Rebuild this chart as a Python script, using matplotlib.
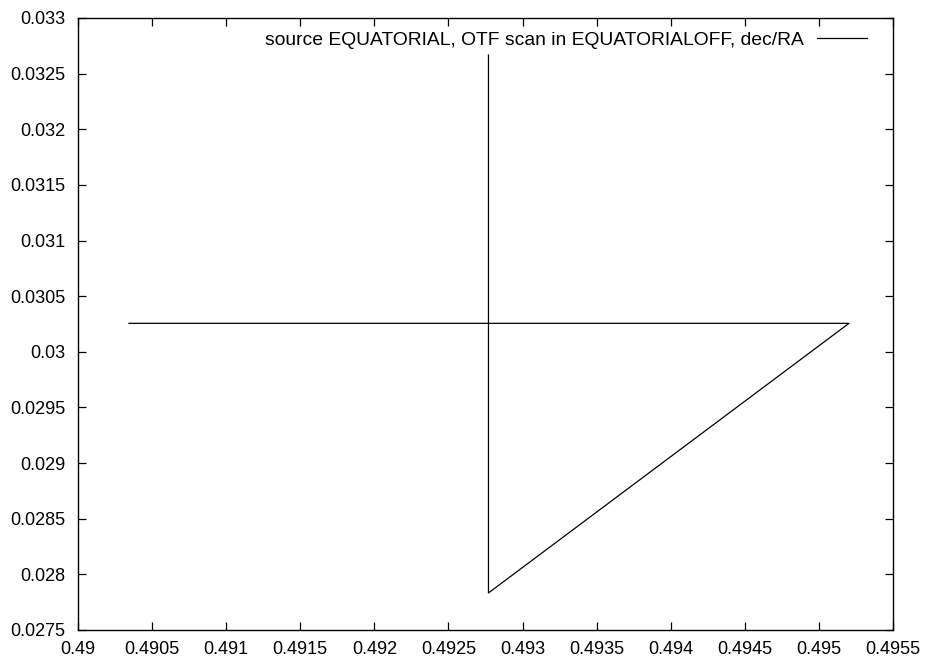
import matplotlib
matplotlib.use("Agg")
import matplotlib.pyplot as plt

# scan path (RA, dec)
ra = [0.490344, 0.495203, 0.49277, 0.49277]
dec = [0.030256, 0.030256, 0.027833, 0.032667]
label = "source EQUATORIAL, OTF scan in EQUATORIALOFF, dec/RA"

xticks = [0.49, 0.4905, 0.491, 0.4915, 0.492, 0.4925, 0.493, 0.4935,
          0.494, 0.4945, 0.495, 0.4955]
yticks = [0.0275, 0.028, 0.0285, 0.029, 0.0295, 0.03, 0.0305, 0.031,
          0.0315, 0.032, 0.0325, 0.033]

plt.rcParams['font.family'] = ['Liberation Sans', 'DejaVu Sans']
plt.rcParams['font.size'] = 13

fig = plt.figure(figsize=(9.29, 6.64), dpi=100)
ax = fig.add_axes([78 / 929, 34 / 664, 815 / 929, 612 / 664])

ax.plot(ra, dec, color="black", linewidth=0.9, label=label)

ax.set_xlim(0.49, 0.4955)
ax.set_ylim(0.0275, 0.033)
ax.set_xticks(xticks)
ax.set_yticks(yticks)
ax.set_xticklabels([f"{v:g}" for v in xticks])
ax.set_yticklabels([f"{v:g}" for v in yticks])
ax.tick_params(direction="in", length=6, width=0.9, top=True, right=True)
ax.tick_params(axis="x", pad=8)
ax.tick_params(axis="y", pad=9)
for s in ax.spines.values():
    s.set_linewidth(1.0)

ax.legend(loc="upper right", frameon=False, fontsize=13.9, handlelength=2.6,
          handletextpad=0.7, markerfirst=False, borderaxespad=0.3,
          bbox_to_anchor=(0.985, 1.0))

fig.savefig("out.png", dpi=100)
